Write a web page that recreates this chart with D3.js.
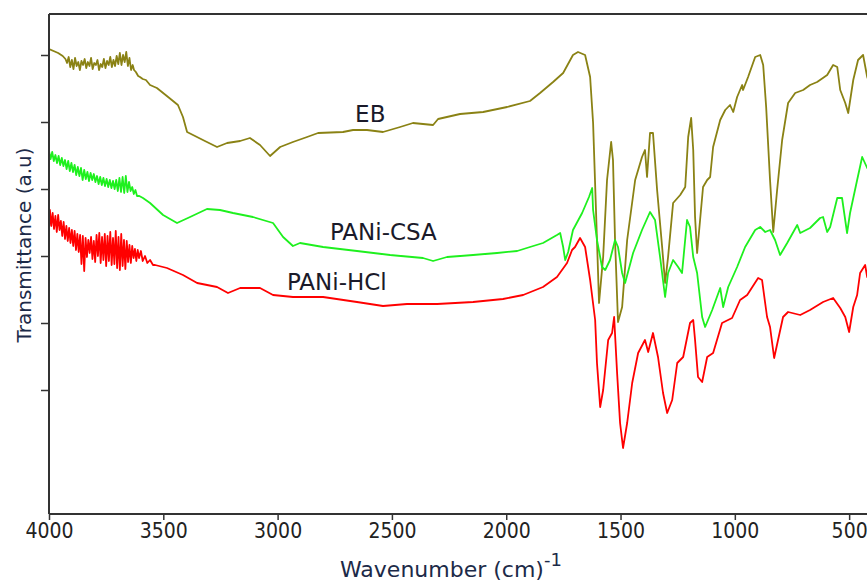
<!DOCTYPE html>
<html>
<head>
<meta charset="utf-8">
<script src="https://cdn.jsdelivr.net/npm/d3@7"></script>
<style>
  body { margin: 0; background: #fff; }
  svg { display: block; }
</style>
</head>
<body>
<svg id="chart"></svg>
<script>
// wavenumber (cm-1) and transmittance (a.u.)
const eb_wn = [4000, 3960, 3940, 3928, 3921, 3914, 3907, 3900, 3893, 3886, 3879, 3872, 3865, 3858, 3851, 3844, 3837, 3830, 3823, 3816, 3809, 3802, 3795, 3788, 3781, 3774, 3767, 3760, 3753, 3746, 3739, 3732, 3725, 3718, 3711, 3704, 3697, 3690, 3683, 3676, 3669, 3662, 3655, 3648, 3641, 3634, 3628, 3620, 3610, 3602, 3590, 3576, 3558, 3528, 3479, 3436, 3414, 3396, 3370, 3318, 3265, 3221, 3164, 3121, 3077, 3033, 2989, 2933, 2871, 2823, 2714, 2670, 2609, 2539, 2464, 2408, 2320, 2298, 2202, 2101, 1996, 1896, 1852, 1795, 1751, 1708, 1686, 1655, 1633, 1620, 1603, 1594, 1576, 1559, 1541, 1533, 1524, 1511, 1493, 1471, 1436, 1406, 1393, 1384, 1371, 1358, 1340, 1318, 1305, 1292, 1270, 1239, 1217, 1204, 1191, 1182, 1174, 1165, 1152, 1139, 1121, 1108, 1095, 1064, 1042, 1021, 1007, 990, 968, 964, 942, 911, 889, 876, 863, 846, 832, 815, 793, 767, 736, 701, 671, 640, 596, 570, 552, 539, 517, 504, 482, 461, 439, 421, 400]
const eb_t = [93.0, 92.2, 91.6, 91.0, 90.2, 91.4, 89.4, 90.8, 89.0, 91.2, 89.6, 90.4, 88.8, 90.6, 89.8, 91.0, 89.2, 90.4, 89.6, 91.2, 89.0, 90.2, 89.8, 90.8, 88.8, 90.0, 89.4, 91.0, 89.2, 90.6, 89.8, 91.4, 89.4, 90.8, 89.6, 91.6, 90.0, 92.2, 89.8, 91.8, 90.4, 92.4, 89.6, 91.2, 88.8, 89.8, 88.8, 88.4, 87.6, 87.4, 87.0, 86.8, 85.8, 85.2, 83.4, 81.8, 79.4, 76.4, 75.8, 74.6, 73.4, 74.2, 74.6, 75.2, 73.8, 71.6, 73.4, 74.4, 75.4, 76.2, 76.4, 76.8, 76.8, 76.4, 77.4, 78.2, 77.8, 79.0, 80.0, 80.4, 81.4, 82.6, 84.2, 86.4, 88.2, 91.8, 92.4, 91.8, 87.4, 78.2, 54.8, 42.2, 51.4, 66.8, 74.4, 70.8, 54.8, 38.4, 41.4, 54.8, 66.8, 71.4, 72.8, 67.4, 76.2, 76.2, 64.8, 53.4, 46.2, 51.4, 62.2, 63.8, 65.4, 75.4, 79.2, 72.8, 59.4, 52.2, 58.8, 65.4, 66.8, 67.4, 73.4, 78.8, 80.8, 81.8, 80.4, 83.4, 85.8, 84.8, 87.4, 91.4, 91.8, 89.8, 81.4, 66.8, 56.4, 64.8, 74.8, 82.2, 84.2, 84.8, 85.8, 86.4, 87.8, 89.8, 89.4, 84.8, 82.2, 80.2, 86.8, 90.8, 91.8, 87.4, 84.8]

const csa_wn = [4000, 3993, 3986, 3979, 3972, 3965, 3958, 3951, 3944, 3937, 3930, 3923, 3916, 3909, 3902, 3895, 3888, 3881, 3874, 3867, 3860, 3853, 3846, 3839, 3832, 3825, 3818, 3811, 3804, 3797, 3790, 3783, 3776, 3769, 3762, 3755, 3748, 3741, 3734, 3727, 3720, 3713, 3706, 3699, 3692, 3685, 3678, 3671, 3664, 3657, 3650, 3643, 3636, 3629, 3622, 3615, 3605, 3589, 3558, 3501, 3440, 3383, 3309, 3252, 3195, 3108, 3020, 2976, 2933, 2902, 2801, 2653, 2508, 2364, 2320, 2259, 2145, 2040, 1952, 1896, 1839, 1778, 1764, 1751, 1742, 1729, 1708, 1668, 1638, 1624, 1620, 1603, 1581, 1567, 1546, 1524, 1511, 1493, 1480, 1445, 1406, 1371, 1349, 1327, 1305, 1292, 1270, 1248, 1231, 1209, 1196, 1182, 1165, 1143, 1130, 1099, 1064, 1051, 1029, 990, 955, 911, 889, 867, 846, 824, 802, 771, 727, 714, 671, 627, 614, 596, 583, 552, 531, 509, 496, 465, 443, 421, 400]
const csa_t = [72.6, 71.0, 72.4, 70.6, 71.8, 70.2, 71.6, 69.8, 71.2, 69.6, 70.8, 69.0, 70.6, 68.6, 70.2, 68.4, 69.8, 67.8, 69.4, 67.6, 69.2, 66.8, 68.8, 67.0, 68.4, 66.6, 68.2, 66.8, 68.0, 66.4, 67.6, 66.0, 67.4, 65.8, 67.2, 65.6, 67.0, 65.4, 66.8, 65.2, 66.6, 65.0, 66.8, 64.6, 67.2, 64.4, 67.4, 64.2, 67.6, 64.4, 66.4, 64.6, 65.4, 64.0, 64.8, 63.6, 63.6, 63.2, 62.2, 59.8, 58.2, 59.4, 61.0, 60.8, 60.2, 59.4, 58.2, 55.4, 53.6, 54.2, 53.4, 52.6, 51.8, 51.2, 50.6, 51.4, 51.8, 52.2, 52.6, 53.4, 54.2, 55.8, 56.2, 53.4, 50.8, 52.4, 56.8, 60.2, 63.4, 65.2, 60.8, 54.8, 49.4, 48.8, 50.8, 54.8, 53.4, 48.2, 46.2, 52.2, 56.8, 60.4, 58.8, 51.4, 43.4, 48.2, 50.8, 49.4, 48.2, 58.8, 57.4, 51.4, 48.2, 39.4, 37.4, 40.8, 45.2, 41.4, 45.4, 49.4, 53.4, 56.8, 57.4, 56.4, 56.8, 54.8, 51.8, 54.2, 57.8, 56.2, 57.2, 59.2, 59.4, 56.4, 57.4, 63.2, 63.2, 56.2, 60.2, 66.8, 71.4, 69.2, 67.8]

const hcl_wn = [4000, 3996, 3990, 3984, 3978, 3972, 3966, 3960, 3954, 3948, 3942, 3936, 3930, 3924, 3918, 3912, 3906, 3900, 3894, 3888, 3882, 3876, 3870, 3864, 3858, 3852, 3846, 3840, 3834, 3828, 3822, 3816, 3810, 3804, 3798, 3792, 3786, 3780, 3774, 3768, 3762, 3756, 3750, 3744, 3738, 3732, 3726, 3720, 3714, 3708, 3702, 3696, 3690, 3684, 3678, 3672, 3666, 3660, 3654, 3648, 3642, 3636, 3630, 3624, 3618, 3612, 3606, 3598, 3590, 3580, 3570, 3558, 3545, 3536, 3484, 3414, 3352, 3265, 3217, 3164, 3077, 3020, 2933, 2801, 2653, 2539, 2434, 2302, 2145, 2014, 1926, 1839, 1778, 1734, 1712, 1699, 1677, 1655, 1633, 1611, 1603, 1589, 1576, 1554, 1537, 1528, 1515, 1502, 1489, 1471, 1449, 1423, 1393, 1379, 1358, 1336, 1314, 1296, 1274, 1252, 1226, 1196, 1182, 1174, 1161, 1143, 1121, 1095, 1056, 1012, 977, 946, 898, 881, 859, 846, 828, 811, 789, 767, 714, 671, 614, 570, 539, 517, 500, 482, 465, 452, 430, 421, 400]
const hcl_t = [56.8, 60.8, 57.6, 60.2, 57.0, 59.6, 56.4, 59.8, 56.8, 58.6, 55.6, 58.4, 55.0, 57.6, 54.6, 57.2, 54.2, 56.8, 53.6, 56.6, 52.8, 56.0, 52.4, 55.8, 50.0, 55.6, 48.6, 55.2, 51.4, 54.8, 52.2, 55.4, 51.0, 54.6, 50.4, 55.8, 51.6, 56.2, 50.2, 55.4, 50.8, 56.0, 49.6, 55.6, 50.6, 56.4, 49.8, 55.2, 50.0, 56.6, 49.2, 55.4, 48.8, 56.0, 49.6, 54.8, 49.0, 54.6, 50.4, 53.8, 50.2, 53.6, 51.2, 53.0, 50.6, 52.8, 51.2, 52.6, 50.6, 51.6, 50.2, 50.8, 49.8, 49.8, 49.2, 47.8, 46.2, 45.4, 44.2, 45.2, 45.2, 43.8, 43.4, 43.4, 42.4, 41.6, 42.0, 42.0, 42.4, 43.0, 43.8, 45.4, 47.4, 50.2, 52.8, 53.4, 55.2, 53.4, 46.8, 38.8, 30.2, 21.4, 24.8, 34.8, 36.2, 39.4, 28.2, 18.2, 13.2, 18.2, 26.2, 32.2, 34.8, 32.4, 36.2, 31.4, 24.2, 20.2, 22.8, 30.2, 31.4, 38.2, 38.8, 34.8, 27.4, 26.4, 31.4, 32.2, 38.2, 39.2, 42.8, 43.8, 47.2, 46.8, 39.4, 37.4, 31.2, 34.8, 39.4, 40.4, 39.8, 40.8, 42.4, 43.2, 41.2, 39.4, 36.4, 41.4, 43.8, 48.2, 49.8, 47.4, 48.8]

const series_names = ['EB', 'PANi-CSA', 'PANi-HCl']
const series_colors = ['#8a8214', '#1ef01e', '#ff0000']
const x_ticks = [4000, 3500, 3000, 2500, 2000, 1500, 1000, 500]
const y_ticks = [24.8, 38.2, 51.6, 65, 78.4, 91.8]
// where each label sits: [wavenumber, transmittance]
const label_pos = [[2661, 78.4], [2771, 54.8], [2959, 44.8]]

const width = 867, height = 581
const marginTop = 14, marginBottom = 67, marginLeft = 49
const plotRight = 872 // the frame runs past the window edge

const series = [
    {wn: eb_wn, t: eb_t},
    {wn: csa_wn, t: csa_t},
    {wn: hcl_wn, t: hcl_t},
]

const svg = d3.select('#chart')
              .attr('width', width)
              .attr('height', height)
              .attr('viewBox', [0, 0, width, height])

const xScale = d3.scaleLinear([4000, 400], [marginLeft, plotRight])
const yScale = d3.scaleLinear([0, 100], [height - marginBottom, marginTop])

svg.append('defs').append('clipPath')
   .attr('id', 'plot-clip')
   .append('rect')
   .attr('x', marginLeft)
   .attr('y', marginTop)
   .attr('width', plotRight - marginLeft)
   .attr('height', height - marginBottom - marginTop)

const line = d3.line()
               .x(d => xScale(d[0]))
               .y(d => yScale(d[1]))

svg.append('g')
   .attr('clip-path', 'url(#plot-clip)')
   .attr('fill', 'none')
   .attr('stroke-width', 1.8)
   .attr('stroke-linejoin', 'round')
 .selectAll('path')
 .data(series)
 .join('path')
   .attr('stroke', (d, i) => series_colors[i])
   .attr('d', d => line(d.wn.map((w, i) => [w, d.t[i]])))

// frame: top line
svg.append('line')
   .attr('x1', marginLeft).attr('x2', width + 10)
   .attr('y1', marginTop).attr('y2', marginTop)
   .attr('stroke', '#333').attr('stroke-width', 2)

const xAxis = d3.axisBottom(xScale).tickValues(x_ticks).tickSize(6).tickPadding(3).tickFormat(d3.format('d'))
svg.append('g')
   .attr('transform', `translate(0,${height - marginBottom})`)
   .call(xAxis)
   .call(g => g.select('.domain').attr('stroke', '#333').attr('stroke-width', 2).attr('d', `M${marginLeft},0H${width + 10}`))
   .call(g => g.selectAll('.tick line').attr('stroke', '#333').attr('stroke-width', 1.5))
   .call(g => g.selectAll('.tick text')
               .attr('fill', '#222')
               .attr('font-family', '"Liberation Sans Narrow", "DejaVu Sans Condensed", sans-serif')
               .attr('font-size', 21))

const yAxis = d3.axisLeft(yScale).tickValues(y_ticks).tickSize(8).tickFormat('')
svg.append('g')
   .attr('transform', `translate(${marginLeft},0)`)
   .call(yAxis)
   .call(g => g.select('.domain').attr('stroke', '#333').attr('stroke-width', 2).attr('d', `M0,${marginTop}V${height - marginBottom}`))
   .call(g => g.selectAll('.tick line').attr('stroke', '#333').attr('stroke-width', 1.5))

// series labels
svg.append('g')
   .attr('font-family', '"DejaVu Sans", sans-serif')
   .attr('font-size', 23)
   .attr('fill', '#1a1a2a')
 .selectAll('text')
 .data(series_names)
 .join('text')
   .attr('x', (d, i) => xScale(label_pos[i][0]))
   .attr('y', (d, i) => yScale(label_pos[i][1]))
   .text(d => d)

// axis titles
const xTitle = svg.append('text')
   .attr('x', 340)
   .attr('y', 577)
   .attr('font-family', '"DejaVu Sans", sans-serif')
   .attr('font-size', 22)
   .attr('fill', '#1c2a48')
xTitle.append('tspan').text('Wavenumber (cm)')
xTitle.append('tspan').attr('dy', -11).attr('font-size', 18).text('-1')

svg.append('text')
   .attr('transform', 'translate(31,245) rotate(-90)')
   .attr('text-anchor', 'middle')
   .attr('font-family', '"DejaVu Sans", sans-serif')
   .attr('font-size', 20)
   .attr('fill', '#1c2a48')
   .text('Transmittance (a.u)')
</script>
</body>
</html>
